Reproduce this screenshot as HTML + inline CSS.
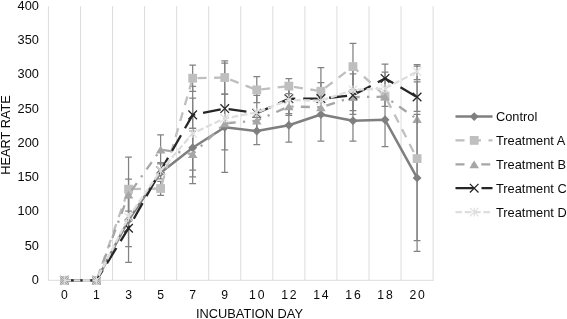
<!DOCTYPE html><html><head><meta charset="utf-8"><style>html,body{margin:0;padding:0;background:#fff}</style></head><body><svg width="567" height="319" viewBox="0 0 567 319" style="display:block;will-change:transform;font-family:'Liberation Sans',sans-serif">
<rect width="567" height="319" fill="#fff"/>
<line x1="48.40" y1="6.2" x2="48.40" y2="280.3" stroke="#dcdcdc" stroke-width="1"/>
<line x1="80.46" y1="6.2" x2="80.46" y2="280.3" stroke="#dcdcdc" stroke-width="1"/>
<line x1="112.52" y1="6.2" x2="112.52" y2="280.3" stroke="#dcdcdc" stroke-width="1"/>
<line x1="144.58" y1="6.2" x2="144.58" y2="280.3" stroke="#dcdcdc" stroke-width="1"/>
<line x1="176.64" y1="6.2" x2="176.64" y2="280.3" stroke="#dcdcdc" stroke-width="1"/>
<line x1="208.70" y1="6.2" x2="208.70" y2="280.3" stroke="#dcdcdc" stroke-width="1"/>
<line x1="240.76" y1="6.2" x2="240.76" y2="280.3" stroke="#dcdcdc" stroke-width="1"/>
<line x1="272.82" y1="6.2" x2="272.82" y2="280.3" stroke="#dcdcdc" stroke-width="1"/>
<line x1="304.88" y1="6.2" x2="304.88" y2="280.3" stroke="#dcdcdc" stroke-width="1"/>
<line x1="336.94" y1="6.2" x2="336.94" y2="280.3" stroke="#dcdcdc" stroke-width="1"/>
<line x1="369.00" y1="6.2" x2="369.00" y2="280.3" stroke="#dcdcdc" stroke-width="1"/>
<line x1="401.06" y1="6.2" x2="401.06" y2="280.3" stroke="#dcdcdc" stroke-width="1"/>
<line x1="433.12" y1="6.2" x2="433.12" y2="280.3" stroke="#dcdcdc" stroke-width="1"/>
<line x1="47.9" y1="280.3" x2="433.62" y2="280.3" stroke="#dcdcdc" stroke-width="1"/>
<text x="38.9" y="283.8" font-size="12.8" text-anchor="end" fill="#0a0a0a">0</text>
<text x="38.9" y="249.6" font-size="12.8" text-anchor="end" fill="#0a0a0a">50</text>
<text x="38.9" y="215.3" font-size="12.8" text-anchor="end" fill="#0a0a0a">100</text>
<text x="38.9" y="181.1" font-size="12.8" text-anchor="end" fill="#0a0a0a">150</text>
<text x="38.9" y="146.8" font-size="12.8" text-anchor="end" fill="#0a0a0a">200</text>
<text x="38.9" y="112.6" font-size="12.8" text-anchor="end" fill="#0a0a0a">250</text>
<text x="38.9" y="78.3" font-size="12.8" text-anchor="end" fill="#0a0a0a">300</text>
<text x="38.9" y="44.0" font-size="12.8" text-anchor="end" fill="#0a0a0a">350</text>
<text x="38.9" y="9.8" font-size="12.8" text-anchor="end" fill="#0a0a0a">400</text>
<text x="65.3" y="298.9" font-size="12.2" text-anchor="middle" fill="#0a0a0a" letter-spacing="1.8">0</text>
<text x="97.4" y="298.9" font-size="12.2" text-anchor="middle" fill="#0a0a0a" letter-spacing="1.8">1</text>
<text x="129.5" y="298.9" font-size="12.2" text-anchor="middle" fill="#0a0a0a" letter-spacing="1.8">3</text>
<text x="161.5" y="298.9" font-size="12.2" text-anchor="middle" fill="#0a0a0a" letter-spacing="1.8">5</text>
<text x="193.6" y="298.9" font-size="12.2" text-anchor="middle" fill="#0a0a0a" letter-spacing="1.8">7</text>
<text x="225.6" y="298.9" font-size="12.2" text-anchor="middle" fill="#0a0a0a" letter-spacing="1.8">9</text>
<text x="257.7" y="298.9" font-size="12.2" text-anchor="middle" fill="#0a0a0a" letter-spacing="1.8">10</text>
<text x="289.8" y="298.9" font-size="12.2" text-anchor="middle" fill="#0a0a0a" letter-spacing="1.8">12</text>
<text x="321.8" y="298.9" font-size="12.2" text-anchor="middle" fill="#0a0a0a" letter-spacing="1.8">14</text>
<text x="353.9" y="298.9" font-size="12.2" text-anchor="middle" fill="#0a0a0a" letter-spacing="1.8">16</text>
<text x="385.9" y="298.9" font-size="12.2" text-anchor="middle" fill="#0a0a0a" letter-spacing="1.8">18</text>
<text x="418.0" y="298.9" font-size="12.2" text-anchor="middle" fill="#0a0a0a" letter-spacing="1.8">20</text>
<text x="249.5" y="317.5" font-size="12.8" text-anchor="middle" fill="#0a0a0a">INCUBATION DAY</text>
<text transform="translate(9.8,135) rotate(-90)" font-size="12.8" text-anchor="middle" fill="#0a0a0a">HEART RATE</text>
<path d="M128.55,157.2L128.55,221.2M125.15,157.2L131.95,157.2M125.15,221.2L131.95,221.2" stroke="#828282" stroke-width="1.25" fill="none"/>
<path d="M128.55,179.1L128.55,211.1M125.15,179.1L131.95,179.1M125.15,211.1L131.95,211.1" stroke="#828282" stroke-width="1.25" fill="none"/>
<path d="M128.55,194.2L128.55,262.3M125.15,194.2L131.95,194.2M125.15,262.3L131.95,262.3" stroke="#828282" stroke-width="1.25" fill="none"/>
<path d="M128.55,188.0L128.55,246.5M125.15,188.0L131.95,188.0M125.15,246.5L131.95,246.5" stroke="#828282" stroke-width="1.25" fill="none"/>
<path d="M160.61,134.9L160.61,163.9M157.21,134.9L164.01,134.9M157.21,163.9L164.01,163.9" stroke="#828282" stroke-width="1.25" fill="none"/>
<path d="M160.61,162.5L160.61,178.9M157.21,162.5L164.01,162.5M157.21,178.9L164.01,178.9" stroke="#828282" stroke-width="1.25" fill="none"/>
<path d="M160.61,181.3L160.61,195.4M157.21,181.3L164.01,181.3M157.21,195.4L164.01,195.4" stroke="#828282" stroke-width="1.25" fill="none"/>
<path d="M192.67,65.2L192.67,91.4M189.27,65.2L196.07,65.2M189.27,91.4L196.07,91.4" stroke="#828282" stroke-width="1.25" fill="none"/>
<path d="M192.67,86.4L192.67,176.9M189.27,86.4L196.07,86.4M189.27,176.9L196.07,176.9" stroke="#828282" stroke-width="1.25" fill="none"/>
<path d="M192.67,98.2L192.67,131.0M189.27,98.2L196.07,98.2M189.27,131.0L196.07,131.0" stroke="#828282" stroke-width="1.25" fill="none"/>
<path d="M192.67,128.4L192.67,170.0M189.27,128.4L196.07,128.4M189.27,170.0L196.07,170.0" stroke="#828282" stroke-width="1.25" fill="none"/>
<path d="M192.67,128.4L192.67,183.7M189.27,128.4L196.07,128.4M189.27,183.7L196.07,183.7" stroke="#828282" stroke-width="1.25" fill="none"/>
<path d="M224.73,60.8L224.73,94.0M221.33,60.8L228.13,60.8M221.33,94.0L228.13,94.0" stroke="#828282" stroke-width="1.25" fill="none"/>
<path d="M224.73,63.2L224.73,172.3M221.33,63.2L228.13,63.2M221.33,172.3L228.13,172.3" stroke="#828282" stroke-width="1.25" fill="none"/>
<path d="M224.73,94.0L224.73,149.8M221.33,94.0L228.13,94.0M221.33,149.8L228.13,149.8" stroke="#828282" stroke-width="1.25" fill="none"/>
<path d="M256.79,76.5L256.79,102.7M253.39,76.5L260.19,76.5M253.39,102.7L260.19,102.7" stroke="#828282" stroke-width="1.25" fill="none"/>
<path d="M256.79,117.3L256.79,144.7M253.39,117.3L260.19,117.3M253.39,144.7L260.19,144.7" stroke="#828282" stroke-width="1.25" fill="none"/>
<path d="M256.79,95.3L256.79,131.0M253.39,95.3L260.19,95.3M253.39,131.0L260.19,131.0" stroke="#828282" stroke-width="1.25" fill="none"/>
<path d="M288.85,78.6L288.85,93.6M285.45,78.6L292.25,78.6M285.45,93.6L292.25,93.6" stroke="#828282" stroke-width="1.25" fill="none"/>
<path d="M288.85,108.4L288.85,142.2M285.45,108.4L292.25,108.4M285.45,142.2L292.25,142.2" stroke="#828282" stroke-width="1.25" fill="none"/>
<path d="M288.85,84.7L288.85,113.6M285.45,84.7L292.25,84.7M285.45,113.6L292.25,113.6" stroke="#828282" stroke-width="1.25" fill="none"/>
<path d="M288.85,83.0L288.85,115.4M285.45,83.0L292.25,83.0M285.45,115.4L292.25,115.4" stroke="#828282" stroke-width="1.25" fill="none"/>
<path d="M320.91,67.6L320.91,114.9M317.51,67.6L324.31,67.6M317.51,114.9L324.31,114.9" stroke="#828282" stroke-width="1.25" fill="none"/>
<path d="M320.91,88.0L320.91,141.0M317.51,88.0L324.31,88.0M317.51,141.0L324.31,141.0" stroke="#828282" stroke-width="1.25" fill="none"/>
<path d="M320.91,82.7L320.91,115.6M317.51,82.7L324.31,82.7M317.51,115.6L324.31,115.6" stroke="#828282" stroke-width="1.25" fill="none"/>
<path d="M352.97,43.3L352.97,89.9M349.57,43.3L356.37,43.3M349.57,89.9L356.37,89.9" stroke="#828282" stroke-width="1.25" fill="none"/>
<path d="M352.97,100.4L352.97,141.0M349.57,100.4L356.37,100.4M349.57,141.0L356.37,141.0" stroke="#828282" stroke-width="1.25" fill="none"/>
<path d="M352.97,73.8L352.97,114.4M349.57,73.8L356.37,73.8M349.57,114.4L356.37,114.4" stroke="#828282" stroke-width="1.25" fill="none"/>
<path d="M352.97,69.3L352.97,110.7M349.57,69.3L356.37,69.3M349.57,110.7L356.37,110.7" stroke="#828282" stroke-width="1.25" fill="none"/>
<path d="M385.03,92.9L385.03,146.7M381.63,92.9L388.43,92.9M381.63,146.7L388.43,146.7" stroke="#828282" stroke-width="1.25" fill="none"/>
<path d="M385.03,64.0L385.03,92.8M381.63,64.0L388.43,64.0M381.63,92.8L388.43,92.8" stroke="#828282" stroke-width="1.25" fill="none"/>
<path d="M385.03,72.2L385.03,106.3M381.63,72.2L388.43,72.2M381.63,106.3L388.43,106.3" stroke="#828282" stroke-width="1.25" fill="none"/>
<path d="M417.09,66.1L417.09,251.4M413.69,66.1L420.49,66.1M413.69,251.4L420.49,251.4" stroke="#828282" stroke-width="1.25" fill="none"/>
<path d="M417.09,114.3L417.09,240.7M413.69,114.3L420.49,114.3M413.69,240.7L420.49,240.7" stroke="#828282" stroke-width="1.25" fill="none"/>
<path d="M417.09,64.5L417.09,79.6M413.69,64.5L420.49,64.5M413.69,79.6L420.49,79.6" stroke="#828282" stroke-width="1.25" fill="none"/>
<path d="M417.09,81.8L417.09,111.3M413.69,81.8L420.49,81.8M413.69,111.3L420.49,111.3" stroke="#828282" stroke-width="1.25" fill="none"/>
<polyline points="64.43,280.3 96.49,280.3 128.55,220.0 160.61,172.8 192.67,147.8 224.73,127.2 256.79,131.0 288.85,125.3 320.91,114.5 352.97,120.7 385.03,119.8 417.09,177.9" fill="none" stroke="#7f7f7f" stroke-width="2.5" stroke-linejoin="round"/>
<path d="M128.55,215.57L133.00,220.02L128.55,224.47L124.10,220.02Z" fill="#7f7f7f"/>
<path d="M160.61,168.31L165.06,172.75L160.61,177.20L156.16,172.75Z" fill="#7f7f7f"/>
<path d="M192.67,143.30L197.12,147.75L192.67,152.20L188.22,147.75Z" fill="#7f7f7f"/>
<path d="M224.73,122.75L229.18,127.20L224.73,131.65L220.28,127.20Z" fill="#7f7f7f"/>
<path d="M256.79,126.52L261.24,130.97L256.79,135.42L252.34,130.97Z" fill="#7f7f7f"/>
<path d="M288.85,120.83L293.30,125.28L288.85,129.73L284.40,125.28Z" fill="#7f7f7f"/>
<path d="M320.91,110.08L325.36,114.53L320.91,118.98L316.46,114.53Z" fill="#7f7f7f"/>
<path d="M352.97,116.24L357.42,120.69L352.97,125.14L348.52,120.69Z" fill="#7f7f7f"/>
<path d="M385.03,115.35L389.48,119.80L385.03,124.25L380.58,119.80Z" fill="#7f7f7f"/>
<path d="M417.09,173.44L421.54,177.89L417.09,182.34L412.64,177.89Z" fill="#7f7f7f"/>
<polyline points="64.43,280.3 96.49,280.3 128.55,189.2 160.61,188.5 192.67,78.2 224.73,77.5 256.79,89.9 288.85,86.1 320.91,91.2 352.97,66.6 385.03,96.0 417.09,158.6" fill="none" stroke="#bfbfbf" stroke-width="2.3" stroke-linejoin="round" stroke-dasharray="9,7.5" stroke-dashoffset="0"/>
<rect x="60.03" y="275.90" width="8.8" height="8.8" fill="#bfbfbf"/>
<rect x="92.09" y="275.90" width="8.8" height="8.8" fill="#bfbfbf"/>
<rect x="124.15" y="184.79" width="8.8" height="8.8" fill="#bfbfbf"/>
<rect x="156.21" y="184.11" width="8.8" height="8.8" fill="#bfbfbf"/>
<rect x="188.27" y="73.82" width="8.8" height="8.8" fill="#bfbfbf"/>
<rect x="220.33" y="73.14" width="8.8" height="8.8" fill="#bfbfbf"/>
<rect x="252.39" y="85.47" width="8.8" height="8.8" fill="#bfbfbf"/>
<rect x="284.45" y="81.70" width="8.8" height="8.8" fill="#bfbfbf"/>
<rect x="316.51" y="86.84" width="8.8" height="8.8" fill="#bfbfbf"/>
<rect x="348.57" y="62.18" width="8.8" height="8.8" fill="#bfbfbf"/>
<rect x="380.63" y="91.63" width="8.8" height="8.8" fill="#bfbfbf"/>
<rect x="412.69" y="154.18" width="8.8" height="8.8" fill="#bfbfbf"/>
<polyline points="64.43,280.3 96.49,280.3 128.55,194.7 160.61,149.7 192.67,154.1 224.73,123.4 256.79,120.7 288.85,106.4 320.91,107.3 352.97,97.1 385.03,96.7 417.09,119.1" fill="none" stroke="#a6a6a6" stroke-width="2.3" stroke-linejoin="round" stroke-dasharray="9,7.25,2.25,7.25" stroke-dashoffset="0"/>
<path d="M128.55,190.78L133.30,198.58L123.80,198.58Z" fill="#a6a6a6"/>
<path d="M160.61,145.77L165.36,153.57L155.86,153.57Z" fill="#a6a6a6"/>
<path d="M192.67,150.15L197.42,157.95L187.92,157.95Z" fill="#a6a6a6"/>
<path d="M224.73,119.53L229.48,127.34L219.98,127.34Z" fill="#a6a6a6"/>
<path d="M256.79,116.79L261.54,124.59L252.04,124.59Z" fill="#a6a6a6"/>
<path d="M288.85,102.55L293.60,110.35L284.10,110.35Z" fill="#a6a6a6"/>
<path d="M320.91,103.44L325.66,111.24L316.16,111.24Z" fill="#a6a6a6"/>
<path d="M352.97,93.16L357.72,100.96L348.22,100.96Z" fill="#a6a6a6"/>
<path d="M385.03,92.82L389.78,100.62L380.28,100.62Z" fill="#a6a6a6"/>
<path d="M417.09,115.15L421.84,122.95L412.34,122.95Z" fill="#a6a6a6"/>
<polyline points="64.43,280.3 96.49,280.3 128.55,228.2 160.61,170.7 192.67,114.9 224.73,108.6 256.79,113.2 288.85,98.8 320.91,98.6 352.97,95.3 385.03,78.4 417.09,97.0" fill="none" stroke="#262626" stroke-width="2.3" stroke-linejoin="round" stroke-dasharray="18,8" stroke-dashoffset="0"/>
<path d="M60.13,276.00L68.73,284.60M68.73,276.00L60.13,284.60" stroke="#262626" stroke-width="1.3" fill="none"/>
<path d="M92.19,276.00L100.79,284.60M100.79,276.00L92.19,284.60" stroke="#262626" stroke-width="1.3" fill="none"/>
<path d="M124.25,223.94L132.85,232.54M132.85,223.94L124.25,232.54" stroke="#262626" stroke-width="1.3" fill="none"/>
<path d="M156.31,166.40L164.91,175.00M164.91,166.40L156.31,175.00" stroke="#262626" stroke-width="1.3" fill="none"/>
<path d="M188.37,110.57L196.97,119.17M196.97,110.57L188.37,119.17" stroke="#262626" stroke-width="1.3" fill="none"/>
<path d="M220.43,104.27L229.03,112.87M229.03,104.27L220.43,112.87" stroke="#262626" stroke-width="1.3" fill="none"/>
<path d="M252.49,108.86L261.09,117.46M261.09,108.86L252.49,117.46" stroke="#262626" stroke-width="1.3" fill="none"/>
<path d="M284.55,94.48L293.15,103.08M293.15,94.48L284.55,103.08" stroke="#262626" stroke-width="1.3" fill="none"/>
<path d="M316.61,94.27L325.21,102.87M325.21,94.27L316.61,102.87" stroke="#262626" stroke-width="1.3" fill="none"/>
<path d="M348.67,91.05L357.27,99.65M357.27,91.05L348.67,99.65" stroke="#262626" stroke-width="1.3" fill="none"/>
<path d="M380.73,74.13L389.33,82.73M389.33,74.13L380.73,82.73" stroke="#262626" stroke-width="1.3" fill="none"/>
<path d="M412.79,92.69L421.39,101.29M421.39,92.69L412.79,101.29" stroke="#262626" stroke-width="1.3" fill="none"/>
<polyline points="64.43,280.3 96.49,280.3 128.55,217.3 160.61,170.7 192.67,133.4 224.73,118.3 256.79,112.5 288.85,99.9 320.91,100.8 352.97,89.9 385.03,88.5 417.09,71.6" fill="none" stroke="#dedede" stroke-width="2.3" stroke-linejoin="round" stroke-dasharray="6.6,2.7" stroke-dashoffset="0"/>
<path d="M60.13,276.00L68.73,284.60M68.73,276.00L60.13,284.60M64.43,276.00L64.43,284.60" stroke="#dedede" stroke-width="1.1" fill="none"/>
<path d="M92.19,276.00L100.79,284.60M100.79,276.00L92.19,284.60M96.49,276.00L96.49,284.60" stroke="#dedede" stroke-width="1.1" fill="none"/>
<path d="M124.25,212.98L132.85,221.58M132.85,212.98L124.25,221.58M128.55,212.98L128.55,221.58" stroke="#dedede" stroke-width="1.1" fill="none"/>
<path d="M156.31,166.40L164.91,175.00M164.91,166.40L156.31,175.00M160.61,166.40L160.61,175.00" stroke="#dedede" stroke-width="1.1" fill="none"/>
<path d="M188.37,129.07L196.97,137.67M196.97,129.07L188.37,137.67M192.67,129.07L192.67,137.67" stroke="#dedede" stroke-width="1.1" fill="none"/>
<path d="M220.43,114.00L229.03,122.60M229.03,114.00L220.43,122.60M224.73,114.00L224.73,122.60" stroke="#dedede" stroke-width="1.1" fill="none"/>
<path d="M252.49,108.17L261.09,116.77M261.09,108.17L252.49,116.77M256.79,108.17L256.79,116.77" stroke="#dedede" stroke-width="1.1" fill="none"/>
<path d="M284.55,95.64L293.15,104.24M293.15,95.64L284.55,104.24M288.85,95.64L288.85,104.24" stroke="#dedede" stroke-width="1.1" fill="none"/>
<path d="M316.61,96.53L325.21,105.13M325.21,96.53L316.61,105.13M320.91,96.53L320.91,105.13" stroke="#dedede" stroke-width="1.1" fill="none"/>
<path d="M348.67,85.57L357.27,94.17M357.27,85.57L348.67,94.17M352.97,85.57L352.97,94.17" stroke="#dedede" stroke-width="1.1" fill="none"/>
<path d="M380.73,84.20L389.33,92.80M389.33,84.20L380.73,92.80M385.03,84.20L385.03,92.80" stroke="#dedede" stroke-width="1.1" fill="none"/>
<path d="M412.79,67.35L421.39,75.95M421.39,67.35L412.79,75.95M417.09,67.35L417.09,75.95" stroke="#dedede" stroke-width="1.1" fill="none"/>
<path d="M417.09,114.3L417.09,124.1" stroke="#828282" stroke-width="1.25" fill="none"/>
<line x1="455.5" y1="116.6" x2="492.5" y2="116.6" stroke="#7f7f7f" stroke-width="2.5"/>
<path d="M474.20,112.15L478.65,116.60L474.20,121.05L469.75,116.60Z" fill="#7f7f7f"/>
<text x="496.0" y="121.1" font-size="12.8" fill="#0a0a0a">Control</text>
<line x1="455.5" y1="140.4" x2="492.5" y2="140.4" stroke="#bfbfbf" stroke-width="2.3" stroke-dasharray="9,7.5"/>
<rect x="469.80" y="136.00" width="8.8" height="8.8" fill="#bfbfbf"/>
<text x="496.0" y="144.9" font-size="12.8" fill="#0a0a0a">Treatment A</text>
<line x1="455.5" y1="164.3" x2="492.5" y2="164.3" stroke="#a6a6a6" stroke-width="2.3" stroke-dasharray="9,7.25,2.25,7.25"/>
<path d="M474.20,160.40L478.95,168.20L469.45,168.20Z" fill="#a6a6a6"/>
<text x="496.0" y="168.8" font-size="12.8" fill="#0a0a0a">Treatment B</text>
<line x1="455.5" y1="188.2" x2="492.5" y2="188.2" stroke="#262626" stroke-width="2.3" stroke-dasharray="18,8"/>
<path d="M469.90,183.90L478.50,192.50M478.50,183.90L469.90,192.50" stroke="#262626" stroke-width="1.3" fill="none"/>
<text x="496.0" y="192.7" font-size="12.8" fill="#0a0a0a">Treatment C</text>
<line x1="455.5" y1="212.1" x2="492.5" y2="212.1" stroke="#dedede" stroke-width="2.3" stroke-dasharray="6.6,2.7"/>
<path d="M469.90,207.80L478.50,216.40M478.50,207.80L469.90,216.40M474.20,207.80L474.20,216.40" stroke="#dedede" stroke-width="1.1" fill="none"/>
<text x="496.0" y="216.6" font-size="12.8" fill="#0a0a0a">Treatment D</text>
</svg></body></html>
